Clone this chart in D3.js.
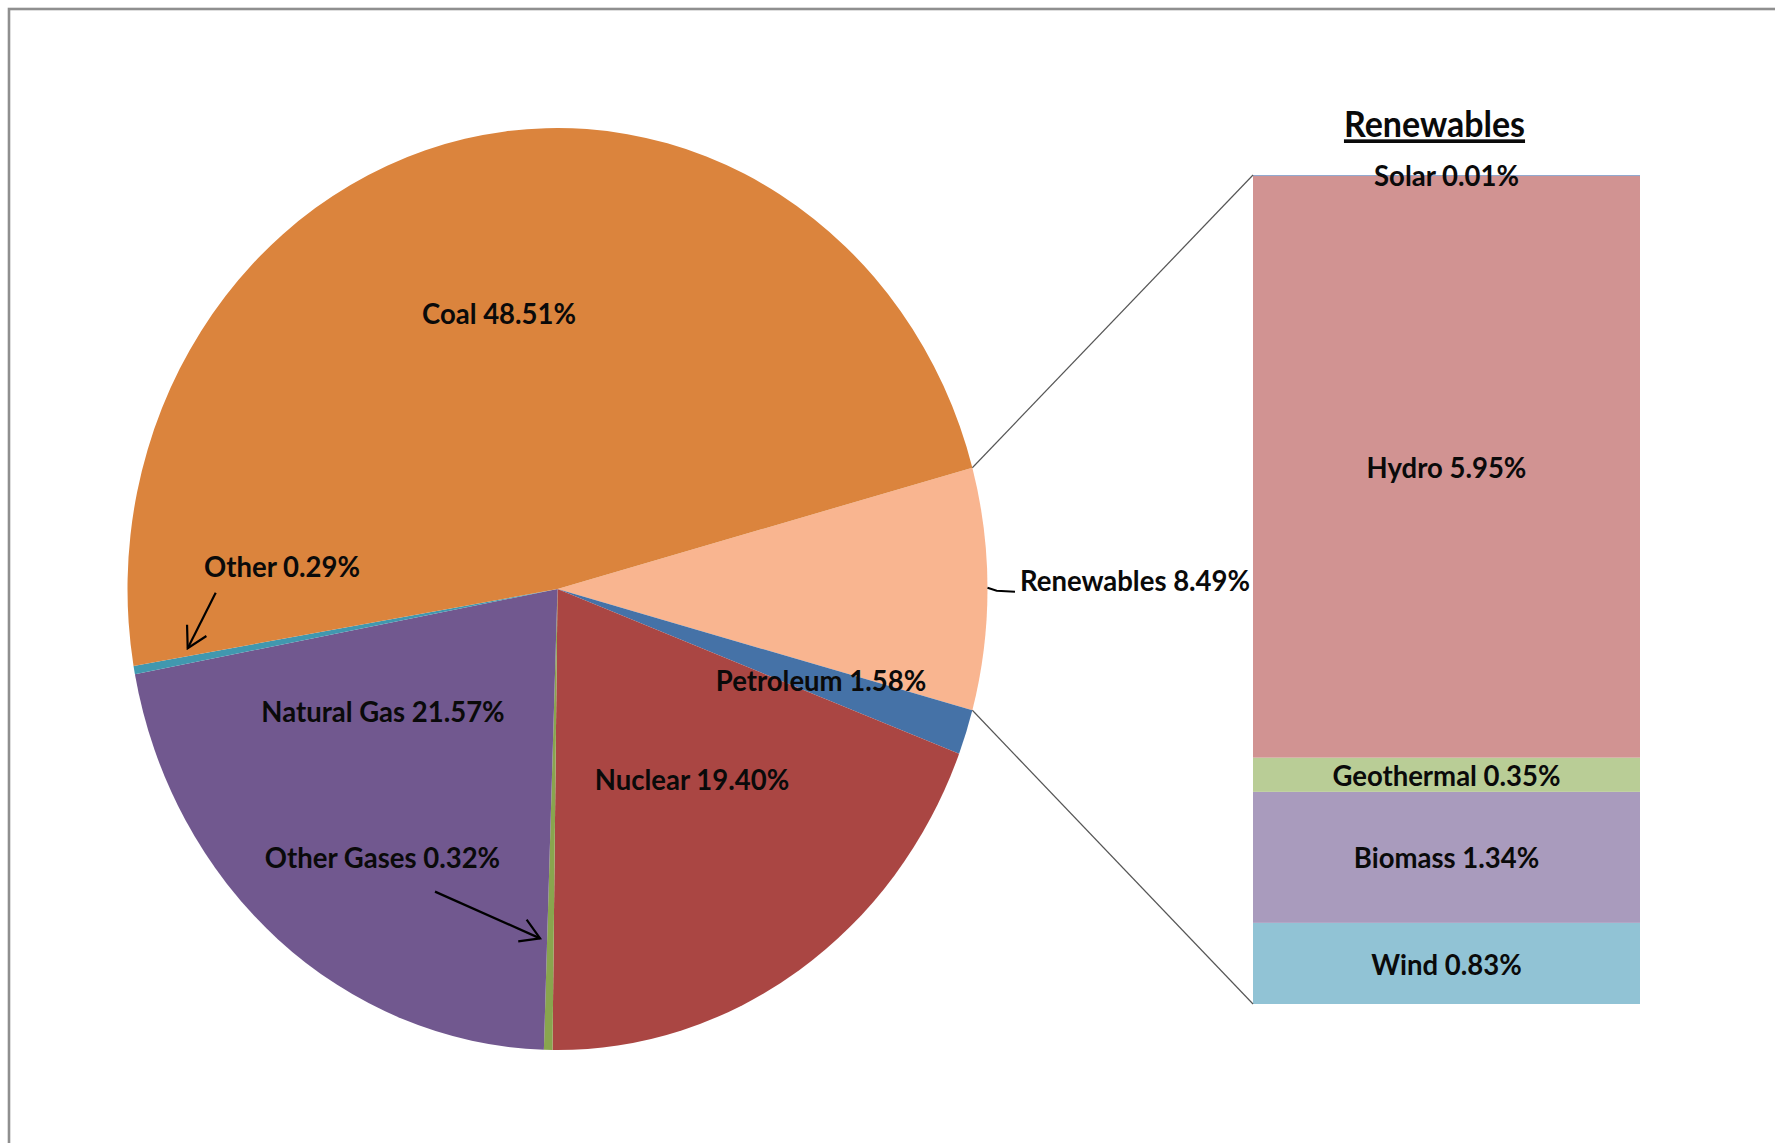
<!DOCTYPE html>
<html>
<head>
<meta charset="utf-8">
<script src="https://cdn.jsdelivr.net/npm/d3@7/dist/d3.min.js"></script>
<style>
  html, body { margin: 0; padding: 0; background: #fff; }
  svg { display: block; }
  text { font-family: Lato, "Open Sans", sans-serif; fill: #0a0a0a; }
</style>
</head>
<body>
<svg id="chart" width="1775" height="1143"></svg>
<script>
// ---- data ----
const pieCategories = ["Renewables", "Petroleum", "Nuclear", "Other Gases", "Natural Gas", "Other", "Coal"];
const pieValues     = [8.49, 1.58, 19.40, 0.32, 21.57, 0.29, 48.51];
const pieColors     = ["#F9B590", "#4572A7", "#AA4643", "#89A54E", "#71588F", "#4198AF", "#DB843D"];

const renewCategories = ["Solar", "Hydro", "Geothermal", "Biomass", "Wind"];
const renewValues     = [0.01, 5.95, 0.35, 1.34, 0.83];
const renewColors     = ["#93A9CF", "#D19392", "#B9CD96", "#A99BBD", "#91C3D5"];

const barTitle = "Renewables";

// ---- layout ----
const W = 1775, H = 1143;
const k = 1.0721;              // vertical stretch of the original picture
const Y = y => y / k;          // picture y -> unstretched y
const cx = 557.5, cy = Y(589), R = 430;
const barX0 = 1253, barX1 = 1640, barTop = Y(175), barBottom = Y(1004);
const fontSize = 27.5;

const svg = d3.select("#chart");
svg.append("rect").attr("x", 9).attr("y", 9).attr("width", 3000).attr("height", 3000)
  .attr("fill", "none").attr("stroke", "#8f8f8f").attr("stroke-width", 2.6);

const g = svg.append("g").attr("transform", `scale(1,${k})`);

const defs = svg.append("defs");
defs.append("marker").attr("id", "arrow").attr("viewBox", "-22 -13 24 26")
  .attr("refX", 0).attr("refY", 0).attr("markerWidth", 24).attr("markerHeight", 26)
  .attr("markerUnits", "userSpaceOnUse").attr("orient", "auto")
  .append("path").attr("d", "M-19,-11 L0,0 L-19,11")
  .attr("fill", "none").attr("stroke", "#000").attr("stroke-width", 2.2);

// ---- pie ----
const total = d3.sum(pieValues);
const renewAngle = pieValues[0] / total * 2 * Math.PI;
const start = Math.PI / 2 - renewAngle / 2;
const pie = d3.pie().sort(null).startAngle(start).endAngle(start + 2 * Math.PI);
const arcs = pie(pieValues);
const arc = d3.arc().innerRadius(0).outerRadius(R);

const pg = g.append("g").attr("transform", `translate(${cx},${cy})`);
pg.selectAll("path").data(arcs).join("path")
  .attr("d", arc).attr("fill", (d, i) => pieColors[i]);

// ---- bar (stacked, bottom to top: Wind ... Solar) ----
const renewTotal = d3.sum(renewValues);
const yScale = d3.scaleLinear().domain([0, renewTotal]).range([barBottom, barTop]);
const stackOrder = d3.range(renewValues.length).reverse();
let acc = 0;
const segs = stackOrder.map(i => { const s = { i, y0: acc, y1: acc + renewValues[i] }; acc += renewValues[i]; return s; });
g.append("g").selectAll("rect").data(segs).join("rect")
  .attr("x", barX0).attr("width", barX1 - barX0)
  .attr("y", d => yScale(d.y1)).attr("height", d => Math.max(1, yScale(d.y0) - yScale(d.y1)))
  .attr("fill", d => renewColors[d.i]);

// ---- connector lines ----
const rA = arcs[0];
const pt = a => [cx + R * Math.sin(a), cy - R * Math.cos(a)];
const pStart = pt(rA.startAngle), pEnd = pt(rA.endAngle);
g.append("line").attr("x1", pStart[0]).attr("y1", pStart[1]).attr("x2", barX0).attr("y2", yScale(renewTotal))
  .attr("stroke", "#555").attr("stroke-width", 1.2);
g.append("line").attr("x1", pEnd[0]).attr("y1", pEnd[1]).attr("x2", barX0).attr("y2", yScale(0))
  .attr("stroke", "#555").attr("stroke-width", 1.2);

// ---- labels ----
const fmt = (name, v) => `${name} ${v.toFixed(2)}%`;
const pieLabelPos = {
  "Coal": [499, 324], "Other": [282, 577], "Natural Gas": [383, 722],
  "Other Gases": [382.5, 868], "Nuclear": [692, 790], "Petroleum": [821, 691]
};
pieCategories.forEach((c, i) => {
  if (!pieLabelPos[c]) return;
  const [x, y] = pieLabelPos[c];
  g.append("text").attr("x", x).attr("y", Y(y)).attr("text-anchor", "middle")
    .attr("font-size", fontSize).attr("font-weight", 700).text(fmt(c, pieValues[i]));
});
// Renewables outside label
g.append("text").attr("x", 1020).attr("y", Y(591)).attr("text-anchor", "start")
  .attr("font-size", fontSize).attr("font-weight", 700).text(fmt(pieCategories[0], pieValues[0]));
g.append("path").attr("d", `M${pt((rA.startAngle + rA.endAngle) / 2)[0]},${Y(587.7)} L996.7,${Y(590.7)} L1015,${Y(591.7)}`)
  .attr("fill", "none").attr("stroke", "#000").attr("stroke-width", 2);

// arrows
g.append("line").attr("x1", 215.7).attr("y1", Y(592.7)).attr("x2", 187.7).attr("y2", Y(648.3))
  .attr("stroke", "#000").attr("stroke-width", 2.2).attr("marker-end", "url(#arrow)");
g.append("line").attr("x1", 435).attr("y1", Y(891.7)).attr("x2", 540).attr("y2", Y(938.3))
  .attr("stroke", "#000").attr("stroke-width", 2.2).attr("marker-end", "url(#arrow)");

// bar labels
const barCx = (barX0 + barX1) / 2;
const barLabelBaseline = { "Solar": 186, "Hydro": 478, "Geothermal": 786, "Biomass": 868, "Wind": 975 };
renewCategories.forEach((c, i) => {
  g.append("text").attr("x", barCx).attr("y", Y(barLabelBaseline[c])).attr("text-anchor", "middle")
    .attr("font-size", fontSize).attr("font-weight", 700).text(fmt(c, renewValues[i]));
});
// title
g.append("text").attr("x", 1434.5).attr("y", Y(137.3)).attr("text-anchor", "middle")
  .attr("font-size", 34).attr("font-weight", 700).attr("text-decoration", "underline").text(barTitle);
</script>
</body>
</html>
